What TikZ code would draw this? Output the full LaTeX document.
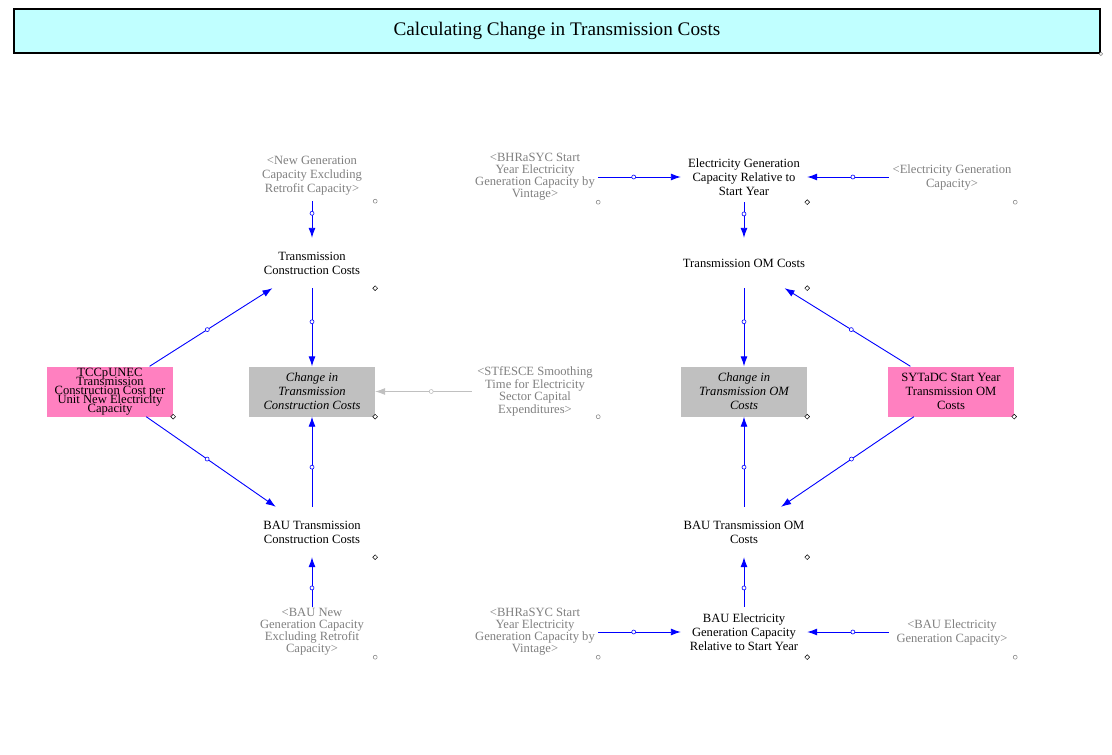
\documentclass[tikz,border=0pt]{standalone}
\usepackage{fontspec}
\setmainfont{Liberation Serif}
\usetikzlibrary{arrows.meta,shapes.geometric}
\definecolor{vblue}{RGB}{0,0,255}
\definecolor{shadowtxt}{RGB}{128,128,128}
\definecolor{shadowline}{RGB}{192,192,192}
\definecolor{pinkfill}{RGB}{255,128,192}
\definecolor{grayfill}{RGB}{192,192,192}
\definecolor{titlefill}{RGB}{192,255,255}
\newcommand\mytightlines{\lineskiplimit=-100pt\relax\lineskip=0pt\relax}
\begin{document}
\begin{tikzpicture}[x=1pt,y=-1pt,
  var/.style={minimum width=126pt,minimum height=50pt,inner sep=0pt,align=center,font=\fontsize{12.6}{14}\selectfont},
  varfour/.style={var,font=\fontsize{12.6}{12}\selectfont},
  varfive/.style={var,font=\fontsize{12.6}{8.9}\selectfont\mytightlines},
  shadowvar/.style={text=shadowtxt},
  pinkbox/.style={fill=pinkfill},
  graybox/.style={fill=grayfill,font=\fontsize{12.6}{14}\selectfont\itshape},
  dmark/.style={diamond,draw=black,fill=white,inner sep=0pt,minimum size=5pt,line width=0.5pt},
  cmark/.style={circle,draw=shadowtxt,fill=white,inner sep=0pt,minimum size=4pt,line width=0.5pt},
  link/.style={draw=vblue,line width=0.9pt,-{Latex[length=10pt,width=7pt]}},
  glink/.style={draw=shadowline,line width=0.9pt,-{Latex[length=10pt,width=7pt]}},
  mc/.style={circle,draw=vblue,fill=white,inner sep=0pt,minimum size=4pt,line width=0.6pt},
  gmc/.style={circle,draw=shadowline,fill=white,inner sep=0pt,minimum size=4pt,line width=0.6pt}
]
\useasboundingbox (0,0) rectangle (1112,755);
\fill[white] (0,0) rectangle (1112,755);

% title
\node[draw=black,line width=1.8pt,fill=titlefill,minimum width=1086pt,minimum height=44pt,inner sep=0pt,font=\fontsize{19.2}{20}\selectfont] (title) at (557,31) {\raisebox{-1.5pt}{Calculating Change in Transmission Costs}};
\node[cmark,minimum size=3.5pt] (titlemark) at (title.south east) {};

% left column
\node[var,shadowvar] (ngc) at (312,176) {<New Generation\\Capacity Excluding\\Retrofit Capacity>};
\node[var] (tcc) at (312,263) {Transmission\\Construction Costs};
\node[varfive,pinkbox] (tccp) at (110,391.5) {TCCpUNEC\\Transmission\\Construction Cost per\\Unit New Electricity\\Capacity};
\node[var,graybox] (ctcc) at (312,391.5) {Change in\\Transmission\\Construction Costs};
\node[var,shadowvar,font=\fontsize{12.6}{11.3}\selectfont] (stf) at (535,391.5) {<STfESCE Smoothing\\Time for Electricity\\Sector Capital\\Expenditures>};
\node[var] (btcc) at (312,532) {BAU Transmission\\Construction Costs};
\node[varfour,shadowvar] (bngc) at (312,632) {<BAU New\\Generation Capacity\\Excluding Retrofit\\Capacity>};

% right column
\node[varfour,shadowvar] (bh1) at (535,177) {<BHRaSYC Start\\Year Electricity\\Generation Capacity by\\Vintage>};
\node[var] (egr) at (744,177) {Electricity Generation\\Capacity Relative to\\Start Year};
\node[var,shadowvar] (egc) at (952,177) {<Electricity Generation\\Capacity>};
\node[var] (tom) at (744,263) {Transmission OM Costs};
\node[var,graybox] (ctom) at (744,391.5) {Change in\\Transmission OM\\Costs};
\node[var,pinkbox] (syt) at (951,391.5) {SYTaDC Start Year\\Transmission OM\\Costs};
\node[var] (btom) at (744,532) {BAU Transmission OM\\Costs};
\node[varfour,shadowvar] (bh2) at (535,632) {<BHRaSYC Start\\Year Electricity\\Generation Capacity by\\Vintage>};
\node[var] (begr) at (744,632) {BAU Electricity\\Generation Capacity\\Relative to Start Year};
\node[var,shadowvar] (begc) at (952,632) {<BAU Electricity\\Generation Capacity>};

% corner marks
\node[cmark] at (ngc.south east) {};
\node[cmark] at (stf.south east) {};
\node[cmark] at (bngc.south east) {};
\node[cmark] at (bh1.south east) {};
\node[cmark] at (egc.south east) {};
\node[cmark] at (bh2.south east) {};
\node[cmark] at (begc.south east) {};
\node[dmark] at (tcc.south east) {};
\node[dmark] at (tccp.south east) {};
\node[dmark] at (ctcc.south east) {};
\node[dmark] at (btcc.south east) {};
\node[dmark] at (egr.south east) {};
\node[dmark] at (tom.south east) {};
\node[dmark] at (ctom.south east) {};
\node[dmark] at (syt.south east) {};
\node[dmark] at (btom.south east) {};
\node[dmark] at (begr.south east) {};

% connectors left
\draw[link] (ngc) -- node[mc,pos=0.33]{} (tcc);
\draw[link] (tcc) -- node[mc,pos=0.43]{} (ctcc);
\draw[link] (btcc) -- node[mc,pos=0.44]{} (ctcc);
\draw[link] (bngc) -- node[mc,pos=0.38]{} (btcc);
\draw[link] (tccp) -- node[mc,pos=0.47]{} (tcc);
\draw[link] (tccp) -- node[mc,pos=0.47]{} (btcc);
\draw[glink] (stf) -- node[gmc,pos=0.42]{} (ctcc);

% connectors right
\draw[link] (bh1) -- node[mc,pos=0.43]{} (egr);
\draw[link] (egc) -- node[mc,pos=0.44]{} (egr);
\draw[link] (egr) -- node[mc,pos=0.33]{} (tom);
\draw[link] (tom) -- node[mc,pos=0.43]{} (ctom);
\draw[link] (syt) -- node[mc,pos=0.47]{} (tom);
\draw[link] (syt) -- node[mc,pos=0.47]{} (btom);
\draw[link] (btom) -- node[mc,pos=0.44]{} (ctom);
\draw[link] (begr) -- node[mc,pos=0.38]{} (btom);
\draw[link] (bh2) -- node[mc,pos=0.43]{} (begr);
\draw[link] (begc) -- node[mc,pos=0.44]{} (begr);
\end{tikzpicture}
\end{document}
